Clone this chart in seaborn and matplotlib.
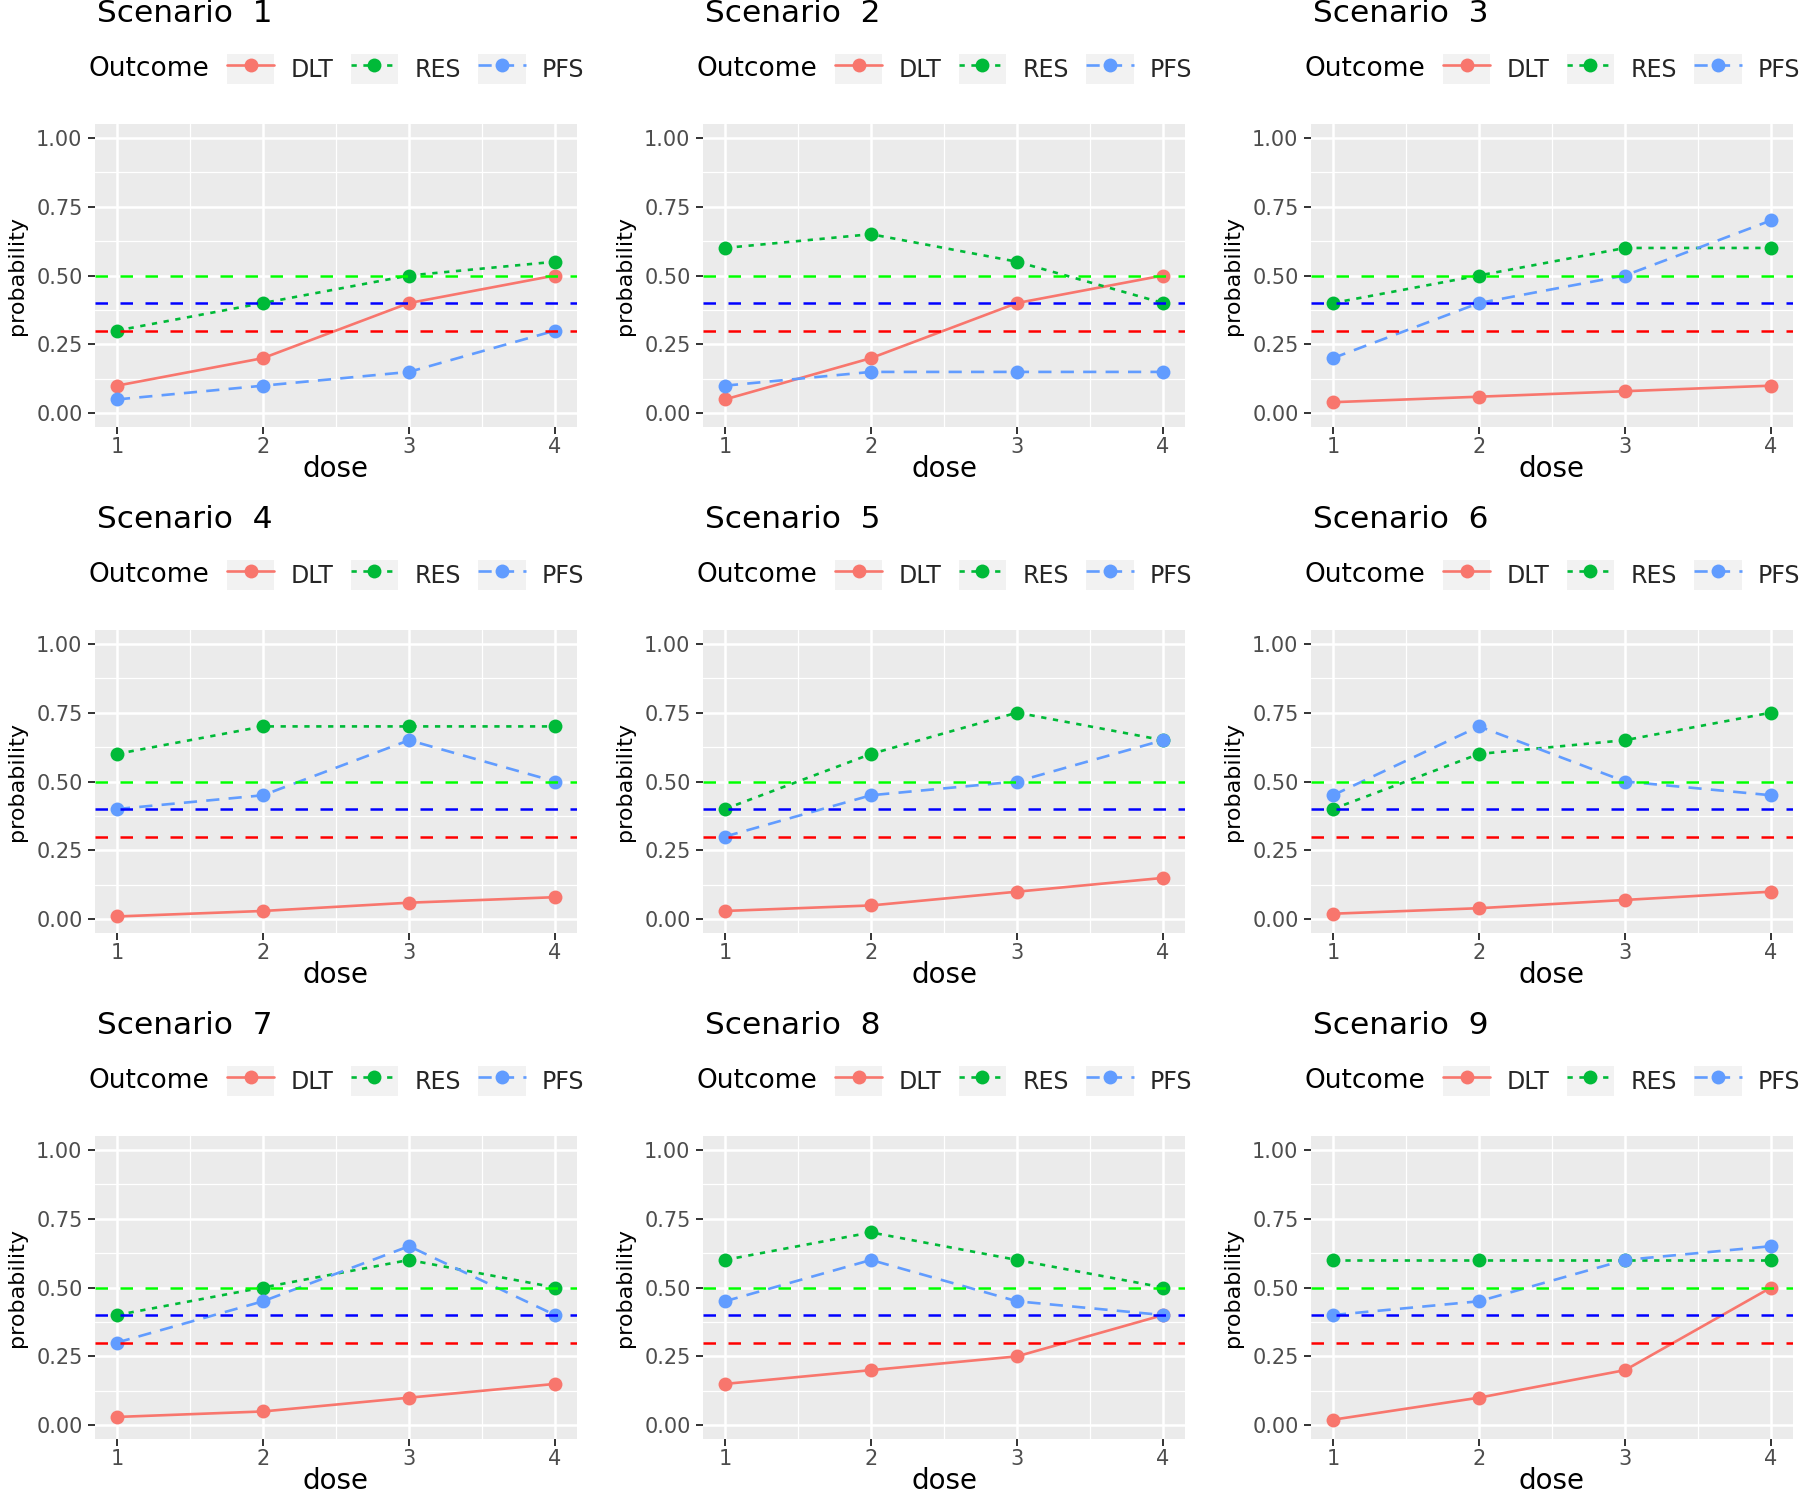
import numpy as np
import pandas as pd
import matplotlib
matplotlib.use("Agg")
import matplotlib.pyplot as plt
import seaborn as sns
from matplotlib.lines import Line2D
from matplotlib.patches import Rectangle
from matplotlib.legend_handler import HandlerTuple
from matplotlib.ticker import FixedLocator

# ── data ──────────────────────────────────────────
doses = [1, 2, 3, 4]
outcomes = ["DLT", "RES", "PFS"]
scenarios = [1, 2, 3, 4, 5, 6, 7, 8, 9]

dlt = [
    [0.10, 0.20, 0.40, 0.50],
    [0.05, 0.20, 0.40, 0.50],
    [0.04, 0.06, 0.08, 0.10],
    [0.01, 0.03, 0.06, 0.08],
    [0.03, 0.05, 0.10, 0.15],
    [0.02, 0.04, 0.07, 0.10],
    [0.03, 0.05, 0.10, 0.15],
    [0.15, 0.20, 0.25, 0.40],
    [0.02, 0.10, 0.20, 0.50],
]
res = [
    [0.30, 0.40, 0.50, 0.55],
    [0.60, 0.65, 0.55, 0.40],
    [0.40, 0.50, 0.60, 0.60],
    [0.60, 0.70, 0.70, 0.70],
    [0.40, 0.60, 0.75, 0.65],
    [0.40, 0.60, 0.65, 0.75],
    [0.40, 0.50, 0.60, 0.50],
    [0.60, 0.70, 0.60, 0.50],
    [0.60, 0.60, 0.60, 0.60],
]
pfs = [
    [0.05, 0.10, 0.15, 0.30],
    [0.10, 0.15, 0.15, 0.15],
    [0.20, 0.40, 0.50, 0.70],
    [0.40, 0.45, 0.65, 0.50],
    [0.30, 0.45, 0.50, 0.65],
    [0.45, 0.70, 0.50, 0.45],
    [0.30, 0.45, 0.65, 0.40],
    [0.45, 0.60, 0.45, 0.40],
    [0.40, 0.45, 0.60, 0.65],
]

# reference thresholds
ref_values = [0.5, 0.4, 0.3]
ref_colors = ["#00FF00", "#0000FF", "#FF0000"]

palette = {"DLT": "#F8766D", "RES": "#00BA38", "PFS": "#619CFF"}
dash_map = {"DLT": "", "RES": (2, 2.5), "PFS": (5, 3.5)}
ls_map = {"DLT": "-", "RES": (0, (2, 2.5)), "PFS": (0, (5, 3.5))}

# ── theme ─────────────────────────────────────────
sns.set_theme(style="darkgrid", rc={
    "axes.facecolor": "#EBEBEB",
    "grid.color": "white",
    "axes.edgecolor": "none",
})
plt.rcParams["font.family"] = ["DejaVu Sans"]

W, H = 1800, 1491
fig = plt.figure(figsize=(W / 100, H / 100), dpi=100)
fig.patch.set_facecolor("white")

col_left = [95, 703, 1311]
row_top = [124, 630, 1136]
pw, ph = 482, 303
LW = 1.9
MS = 10

for i, sc in enumerate(scenarios):
    r, c = divmod(i, 3)
    left, top = col_left[c], row_top[r]
    ax = fig.add_axes([left / W, 1 - (top + ph) / H, pw / W, ph / H])

    df = pd.DataFrame({
        "dose": doses * 3,
        "probability": dlt[i] + res[i] + pfs[i],
        "Outcome": [o for o in outcomes for _ in doses],
    })
    sns.lineplot(data=df, x="dose", y="probability", hue="Outcome", style="Outcome",
                 hue_order=outcomes, style_order=outcomes, palette=palette,
                 dashes=dash_map, markers={o: "o" for o in outcomes},
                 markersize=MS, markeredgewidth=0, linewidth=LW,
                 legend=False, ax=ax, zorder=2)

    for v, col in zip(ref_values, ref_colors):
        ax.axhline(v, color=col, lw=1.8, ls=(0, (5, 5)), zorder=3)

    ax.set_xlim(0.85, 4.15)
    ax.set_ylim(-0.05, 1.05)
    ax.set_xticks(doses)
    ax.set_xticklabels([str(d) for d in doses])
    ax.set_yticks([0, 0.25, 0.5, 0.75, 1.0])
    ax.set_yticklabels(["0.00", "0.25", "0.50", "0.75", "1.00"])
    ax.xaxis.set_minor_locator(FixedLocator([1.5, 2.5, 3.5]))
    ax.yaxis.set_minor_locator(FixedLocator([0.125, 0.375, 0.625, 0.875]))
    ax.grid(which="major", color="white", lw=1.8)
    ax.grid(which="minor", color="white", lw=0.9)
    ax.tick_params(which="major", length=5, width=1.4, color="#333333",
                   labelsize=15, labelcolor="#4D4D4D", bottom=True, left=True)
    ax.tick_params(axis="y", pad=4)
    ax.tick_params(axis="x", pad=2)
    ax.tick_params(which="minor", length=0)
    ax.set_xlabel("")
    ax.set_ylabel("")
    for s in ax.spines.values():
        s.set_visible(False)

    # titles / labels
    fig.text((left + 2) / W, 1 - (top - 102) / H, f"Scenario  {sc}",
             fontsize=22.5, ha="left", va="baseline", color="black")
    fig.text((left + pw / 2) / W, 1 - (top + ph + 42) / H, "dose",
             fontsize=20, ha="center", va="center", color="black")
    fig.text((left - 78) / W, 1 - (top + ph / 2) / H, "probability",
             fontsize=16, ha="center", va="center", rotation=90, color="black")

    # legend
    fig.text((left - 6) / W, 1 - (top - 55) / H, "Outcome",
             fontsize=19, ha="left", va="center", color="black")
    handles = []
    for o in outcomes:
        bg = Rectangle((0, 0), 1, 1, facecolor="#F2F2F2", edgecolor="none")
        ln = Line2D([], [], color=palette[o], ls=ls_map[o], lw=LW,
                    marker="o", markersize=MS, markeredgewidth=0)
        handles.append((bg, ln))
    fig.legend(handles=handles, labels=outcomes,
               handler_map={tuple: HandlerTuple(ndivide=1, pad=0)},
               loc="center left",
               bbox_to_anchor=((left + 132) / W, 1 - (top - 55) / H),
               bbox_transform=fig.transFigure, ncol=3, frameon=False,
               borderpad=0, borderaxespad=0, fontsize=17,
               handlelength=2.0, handleheight=1.6, handletextpad=0.68,
               columnspacing=0.75)

fig.savefig("out.png", dpi=100, facecolor="white")
